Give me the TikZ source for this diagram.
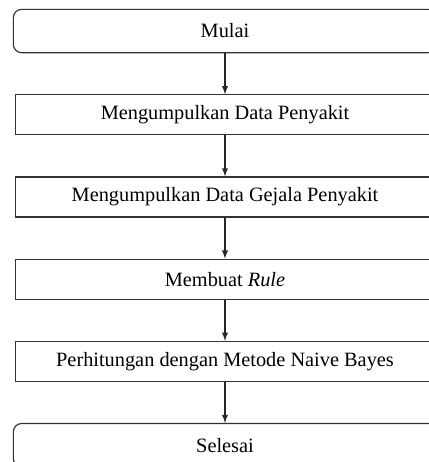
\documentclass[tikz,border=0pt]{standalone}
\usepackage{fontspec}
\setmainfont{Liberation Serif}
\usepackage{xcolor}
\usetikzlibrary{positioning,shapes.geometric}
\usetikzlibrary{arrows}

\begin{document}
\begin{tikzpicture}[
	  x=0.6pt, y=-0.6pt,
	  node distance=24.6pt,
	  font=\fontsize{12.2}{14}\selectfont,
	  %style for arrows
	  arrw/.style={line width=0.7pt, ->, >=latex, draw=black!85},
      % style for start and end
      term/.style={rectangle, rounded corners=5pt, draw=black!80, line width=0.7pt, minimum width=254pt, minimum height=26pt},
      % style for the steps
      stp/.style={rectangle, draw=black!80, line width=0.7pt, minimum width=251pt, minimum height=24pt}]

      \useasboundingbox (0,0) rectangle (429,462);

      %nodes
      \node[term] (mulai) at (225,31) {Mulai};
      \node[stp,below=of mulai] (datapenyakit) {Mengumpulkan Data Penyakit};
      \node[stp,below=of datapenyakit] (datagejala) {Mengumpulkan Data Gejala Penyakit};
      \node[stp,below=of datagejala] (rule) {Membuat \textit{Rule}};
      \node[stp,below=of rule] (naivebayes) {Perhitungan dengan Metode Naive Bayes};
      \node[term,below=of naivebayes] (selesai) {Selesai};
      %edges
      \draw[arrw] (mulai) -- (datapenyakit);
      \draw[arrw] (datapenyakit) -- (datagejala);
      \draw[arrw] (datagejala) -- (rule);
      \draw[arrw] (rule) -- (naivebayes);
      \draw[arrw] (naivebayes) -- (selesai);
\end{tikzpicture}
\end{document}
